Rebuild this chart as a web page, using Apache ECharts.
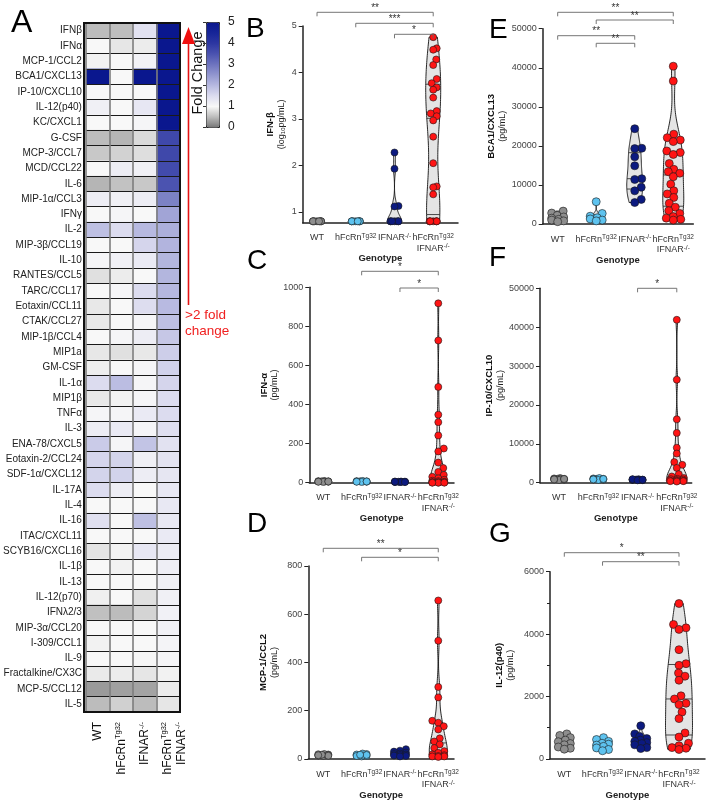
<!DOCTYPE html>
<html><head><meta charset="utf-8">
<script src="https://cdn.jsdelivr.net/npm/echarts@6/dist/echarts.min.js"></script>
<style>html,body{margin:0;padding:0;background:#fff}#c{width:706px;height:801px}</style>
</head><body><div id="c"></div>
<script>
// ---------------- DATA ----------------
const cytokines = ['IFNβ','IFNα','MCP-1/CCL2','BCA1/CXCL13','IP-10/CXCL10','IL-12(p40)','KC/CXCL1','G-CSF','MCP-3/CCL7','MCD/CCL22','IL-6','MIP-1α/CCL3','IFNγ','IL-2','MIP-3β/CCL19','IL-10','RANTES/CCL5','TARC/CCL17','Eotaxin/CCL11','CTAK/CCL27','MIP-1β/CCL4','MIP1a','GM-CSF','IL-1α','MIP1β','TNFα','IL-3','ENA-78/CXCL5','Eotaxin-2/CCL24','SDF-1α/CXCL12','IL-17A','IL-4','IL-16','ITAC/CXCL11','SCYB16/CXCL16','IL-1β','IL-13','IL-12(p70)','IFNλ2/3','MIP-3α/CCL20','I-309/CCL1','IL-9','Fractalkine/CX3C','MCP-5/CCL12','IL-5'];
const foldWT     = [0.5,1.0,0.95,5,1.0,1.15,1.0,0.5,0.6,1.0,0.45,1.2,1.0,1.9,1.0,1.05,0.8,1.0,0.87,0.87,1.0,0.86,0.92,1.5,0.87,1.05,1.2,1.75,1.6,1.62,1.5,1.0,1.42,1.0,0.83,1.0,1.0,0.93,0.53,1.0,0.95,1.0,0.88,0.25,0.5];
const foldHFcRn  = [0.52,0.85,1.0,1.0,1.0,1.0,1.0,0.45,0.68,1.2,0.55,1.15,1.05,1.5,1.0,1.15,0.9,1.05,1.0,1.0,1.05,0.8,1.0,1.95,0.95,1.05,1.25,1.05,1.62,1.63,1.2,1.0,1.0,1.0,0.95,0.95,1.0,1.0,0.5,1.0,1.0,1.0,0.9,0.3,0.67];
const foldIFNAR  = [1.4,0.9,1.1,5,1.0,1.3,1.05,0.75,0.78,1.15,0.6,1.2,1.0,2.0,1.6,1.25,1.0,1.5,1.48,1.05,1.2,0.87,1.05,1.05,1.05,1.25,1.05,1.85,1.15,1.2,1.0,1.0,1.9,1.0,1.3,1.0,1.0,0.8,0.7,1.0,1.0,0.98,0.85,0.32,0.5];
const foldDouble = [5,5,5,5,5,5,5,3.7,3.7,3.65,3.5,2.8,2.3,2.15,2.07,2.05,2.05,2.03,1.98,1.9,1.8,1.7,1.65,1.6,1.5,1.5,1.45,1.4,1.37,1.33,1.3,1.28,1.28,1.25,1.22,1.18,1.15,1.15,1.12,1.12,1.08,1.05,0.95,0.9,0.85];
const heatColLabels = ['{n|WT}','{n|hFcRn}{s|Tg32}','{n|IFNAR}{s|-/-}','\n{n|hFcRn}{s|Tg32}\n{n|IFNAR}{s|-/-}'];
const colorbarTicks = [0,1,2,3,4,5];

const genotypeLabels = ['{n|WT}','{n|hFcRn}{s|Tg32}','{n|IFNAR}{s|-/-}','{n|hFcRn}{s|Tg32}\n{n|IFNAR}{s|-/-}'];

// B: IFN-beta (log10 pg/mL)
const ifnbWT     = [0.8,0.8,0.8,0.8,0.8,0.8,0.8,0.8,0.8,0.8];
const ifnbHFcRn  = [0.8,0.8,0.8,0.8,0.8,0.8,0.8,0.8,0.8,0.8];
const ifnbIFNAR  = [2.28,1.93,1.13,1.12,0.8,0.8,0.8,0.8,0.8,0.8,0.8];
const ifnbDouble = [4.76,4.52,4.49,4.28,4.16,3.86,3.77,3.68,3.63,3.46,3.17,3.12,3.06,2.97,2.62,2.05,1.55,1.53,1.38,0.8,0.8,0.8,0.8,0.8,0.8,0.8];
const ifnbTicks  = [1,2,3,4,5];
const sigB = [[0,3,'**'],[1,3,'***'],[2,3,'*']];
// C: IFN-alpha
const ifnaWT     = [9,7,6,5,8,6,4,7,5,6];
const ifnaHFcRn  = [8,6,7,5,9,6,4,7,6,5];
const ifnaIFNAR  = [5,4,6,3,5,4,6,5,3,4,5];
const ifnaDouble = [918,728,490,348,310,242,175,160,103,75,55,40,30,22,15,10,8,5,3,2,2,1,1,0,0,0];
const sigC = [[1,3,'*'],[2,3,'*']];
// D: MCP-1/CCL2
const mcp1WT     = [18,15,12,20,16,14,19,13,17,15];
const mcp1HFcRn  = [20,15,12,18,22,10,14,16,12,17];
const mcp1IFNAR  = [40,34,30,26,22,20,18,16,14,12,10];
const mcp1Double = [657,490,298,255,158,150,135,122,85,72,60,45,32,25,18,15,12,10,10,8];
const sigD = [[0,3,'**'],[1,3,'*']];
// E: BCA1/CXCL13
const bca1WT     = [3300,2800,2200,1800,1500,1200,1000,800,600];
const bca1HFcRn  = [5700,2700,2000,1600,1300,1000,800];
const bca1IFNAR  = [24400,19400,19300,17200,14900,11600,11400,9400,8500,6300,5500];
const bca1Double = [40400,36600,23000,22100,21500,21100,18700,18300,17800,15500,14000,13400,13000,12100,10200,8500,7700,6800,5300,4300,3400,2700,1900,1500,1200,1000];
const sigE = [[0,3,'**'],[1,3,'**'],[0,2,'**'],[1,2,'**']];
// F: IP-10/CXCL10
const ip10WT     = [1200,1000,900,800,1100,700,900,1000,850,950];
const ip10HFcRn  = [1100,1000,900,800,1200,700,1000,900,950,850];
const ip10IFNAR  = [900,800,700,850,750,650,800,900,700,600,750];
const ip10Double = [41900,26500,16300,12800,9000,7500,5300,4600,3800,2200,1600,1200,1000,900,800,700,600,500,500,400,400,300];
const sigF = [[2,3,'*']];
// G: IL-12(p40)
const il12WT     = [800,750,680,600,550,490,450,380,340,310];
const il12HFcRn  = [680,620,560,500,470,440,400,350,300,260];
const il12IFNAR  = [1060,800,720,650,600,560,520,490,450,360,330];
const il12Double = [4980,4310,4200,4150,3500,3050,3000,2750,2650,2520,2020,1920,1780,1740,1500,1290,830,700,500,420,360,340,300];
const sigG = [[0,3,'*'],[1,3,'**']];

// ---------------- STYLE / LAYOUT ----------------
const FONT = '"Liberation Sans", Arial, Helvetica, sans-serif';
const groupColors = ['#8e8e8e','#5ec3ef','#0c1a80','#ff1414'];
const heatColors = ['#777777','#bcbcbc','#f8f8f8','#dcdcef','#b7b9e0','#9296cf','#6e74bf','#4b53b0','#2d37a2','#172598','#0a178e'];

const panels = [
  {name:'{b|IFN-β}\n{n|(log}{sub|10}{n|pg/mL)}', groups:[ifnbWT,ifnbHFcRn,ifnbIFNAR,ifnbDouble], sig:sigB, yMin:0.77, yMax:5, ticks:ifnbTicks,
   L:{left:302.7, top:26, right:458, bottom:222.7, xMin:-0.37, xMax:3.64, brk:[-13.7,-2.7,8.3], nameGap:16, genGap:27, sym:7, spread:[4,4,4,3.5], halfW:[5,5,7,7.5]}},
  {name:'{b|IFN-α}\n{n|(pg/mL)}', groups:[ifnaWT,ifnaHFcRn,ifnaIFNAR,ifnaDouble], sig:sigC, yMin:0, yMax:1000, interval:200,
   L:{left:309.3, top:287.3, right:454, bottom:482.7, xMin:-0.366, xMax:3.41, brk:[-16,0.7], nameGap:28, genGap:26, sym:7, spread:[5,5,5,6], halfW:[4,4,4,8]}},
  {name:'{b|MCP-1/CCL2}\n{n|(pg/mL)}', groups:[mcp1WT,mcp1HFcRn,mcp1IFNAR,mcp1Double], sig:sigD, yMin:0, yMax:800, interval:200,
   L:{left:308.3, top:566, right:454, bottom:764, xMin:-0.39, xMax:3.41, brk:[-17.7,-8.7], nameGap:28, genGap:26, sym:7, spread:[5,5,6,6], halfW:[4,4,6,9]}},
  {name:'{b|BCA1/CXCL13}\n{n|(pg/mL)}', groups:[bca1WT,bca1HFcRn,bca1IFNAR,bca1Double], sig:sigE, yMin:0, yMax:50000, interval:10000,
   L:{left:542.7, top:28.7, right:693.3, bottom:224, xMin:-0.389, xMax:3.52, brk:[-16.4,-8.7,7,14.6], nameGap:35, genGap:23, sym:8, spread:[6,6,7,9.5], halfW:[5,6,8,10.5]}},
  {name:'{b|IP-10/CXCL10}\n{n|(pg/mL)}', groups:[ip10WT,ip10HFcRn,ip10IFNAR,ip10Double], sig:sigF, yMin:0, yMax:50000, interval:10000,
   L:{left:540, top:288.3, right:691.7, bottom:482.7, xMin:-0.487, xMax:3.38, brk:[0], nameGap:32, genGap:26, sym:7, spread:[5,5,5,7], halfW:[4,4,4,10]}},
  {name:'{b|IL-12(p40)}\n{n|(pg/mL)}', groups:[il12WT,il12HFcRn,il12IFNAR,il12Double], sig:sigG, yMin:0, yMax:6000, interval:2000, minor:true,
   L:{left:550, top:571.7, right:705, bottom:765, xMin:-0.374, xMax:3.68, brk:[-19,-10], nameGap:34, genGap:25, sym:8, spread:[6,6,6,9.5], halfW:[6,6,7,13.5]}}
];

// ---------------- HELPERS ----------------
function quantile(sorted, p){
  const pos = (sorted.length-1)*p, lo = Math.floor(pos), hi = Math.ceil(pos);
  return sorted[lo] + (sorted[hi]-sorted[lo])*(pos-lo);
}
function violin(vals, halfMax){
  const s = vals.slice().sort((a,b)=>a-b), n = s.length;
  const mn = s[0], mx = s[n-1];
  if (!(mx > mn)) return null;
  const mean = s.reduce((a,b)=>a+b,0)/n;
  const sd = Math.sqrt(s.reduce((a,b)=>a+(b-mean)*(b-mean),0)/(n-1));
  const q1 = quantile(s,0.25), med = quantile(s,0.5), q3 = quantile(s,0.75);
  let spread = Math.min(sd, (q3-q1)/1.34); if (!(spread>0)) spread = sd;
  let h = 0.9*spread*Math.pow(n,-0.2); if (!(h>0)) h = (mx-mn)/10;
  const K = 80, ys = [], ds = [];
  for (let k=0;k<=K;k++){
    const y = mn + (mx-mn)*k/K; let d = 0;
    for (const v of s){ const z=(y-v)/h; d += Math.exp(-0.5*z*z); }
    ys.push(y); ds.push(d);
  }
  const dmax = Math.max(...ds);
  const w = ds.map(d=>d/dmax*halfMax);
  const widthAt = (q)=>{ const t=(q-mn)/(mx-mn)*K; const k=Math.min(K-1,Math.floor(t)); return w[k]+(w[k+1]-w[k])*(t-k); };
  return {ys, w, q1, med, q3, widthAt};
}
function swarm(cx, ys, r, maxSpread){
  const order = ys.map((y,i)=>i).sort((a,b)=>ys[b]-ys[a]);
  const placed = [], xs = new Array(ys.length), d = 2*r*0.9;
  for (const i of order){
    const y = ys[i]; let best = cx, bestCost = Infinity;
    for (let off=-maxSpread; off<=maxSpread+1e-6; off+=0.5){
      const x = cx+off; let ov = 0;
      for (const p of placed){ const dist=Math.hypot(p[0]-x,p[1]-y); if (dist<d) ov += d-dist; }
      const cost = ov*5 + Math.abs(off) + (off<0?0.01:0);
      if (cost < bestCost){ bestCost = cost; best = x; }
    }
    xs[i] = best; placed.push([best,y]);
  }
  return xs;
}

// ---------------- OPTION ----------------
const heatData = [];
const cols = [foldWT, foldHFcRn, foldIFNAR, foldDouble];
cytokines.forEach((c,r)=>cols.forEach((arr,ci)=>heatData.push([ci, r, arr[r]])));

const grids = [
  {left:84, top:23, width:96, height:689},
  {left:206, top:22, width:13, height:105}
];
const xAxes = [
  {gridIndex:0, type:'category', data:heatColLabels, z:4, axisLine:{show:false}, axisTick:{show:false},
   splitLine:{show:true, interval:0, lineStyle:{color:'#7d7d7d', width:1.6}},
   axisLabel:{rotate:90, margin:10, interval:0, rich:{n:{fontSize:12, color:'#111', fontFamily:FONT, lineHeight:14}, s:{fontSize:7.5, color:'#111', verticalAlign:'top', lineHeight:14, fontFamily:FONT}}}},
  {gridIndex:1, type:'value', show:false, min:0, max:1}
];
const yAxes = [
  {gridIndex:0, type:'category', data:cytokines, inverse:true, z:3, axisLine:{show:false}, axisTick:{show:false},
   splitLine:{show:true, interval:0, lineStyle:{color:'#1a1a1a', width:1}},
   axisLabel:{fontSize:10, color:'#222', margin:4, interval:0}},
  {gridIndex:1, type:'value', position:'right', min:0, max:5, interval:1, z:10,
   axisLine:{show:false}, axisTick:{show:true, inside:true, length:3, lineStyle:{color:'#333'}},
   axisLabel:{fontSize:12, color:'#222', margin:9}, splitLine:{show:false}}
];
const series = [
  {type:'heatmap', xAxisIndex:0, yAxisIndex:0, data:heatData, itemStyle:{borderWidth:0}, emphasis:{disabled:true}, silent:true}
];
const axisColor = '#222';
panels.forEach((P, pi)=>{
  const L = P.L, gi = grids.length;
  grids.push({left:L.left, top:L.top, width:L.right-L.left, height:L.bottom-L.top});
  xAxes.push({gridIndex:gi, type:'value', min:L.xMin, max:L.xMax,
    axisLine:{onZero:false, lineStyle:{color:axisColor, width:1.5}}, axisTick:{show:false}, splitLine:{show:false},
    axisLabel:{customValues:[0,1,2,3], formatter:(v)=>genotypeLabels[Math.round(v)], margin:10,
      rich:{n:{fontSize:9, color:'#333', fontFamily:FONT, lineHeight:10.5}, s:{fontSize:6.5, color:'#333', verticalAlign:'top', lineHeight:10.5, fontFamily:FONT}}},
    name:'Genotype', nameLocation:'middle', nameGap:L.genGap, nameTextStyle:{fontWeight:'bold', fontSize:9.5, color:'#222', fontFamily:FONT}});
  const ya = {gridIndex:gi, type:'value', min:P.yMin, max:P.yMax,
    axisLine:{show:true, onZero:false, lineStyle:{color:axisColor, width:1.5}},
    axisTick:{show:true, length:4, lineStyle:{color:axisColor, width:1}}, splitLine:{show:false},
    axisLabel:{fontSize:9, color:'#444', margin:6, formatter:(v)=>String(v)},
    name:P.name, nameLocation:'middle', nameRotate:90, nameGap:L.nameGap,
    nameTextStyle:{rich:{b:{fontWeight:'bold', fontSize:9.5, color:'#111', lineHeight:11, fontFamily:FONT},
                         n:{fontSize:9, color:'#222', lineHeight:11, fontFamily:FONT},
                         sub:{fontSize:6, color:'#222', verticalAlign:'bottom', lineHeight:11, fontFamily:FONT}}}};
  if (P.ticks){ ya.axisLabel.customValues = P.ticks; ya.axisTick.customValues = P.ticks; }
  else { ya.interval = P.interval; }
  if (P.minor){ ya.minorTick = {show:true, splitNumber:2, length:3, lineStyle:{color:axisColor}}; }
  yAxes.push(ya);
  const ai = xAxes.length-1;
  series.push({type:'custom', xAxisIndex:ai, yAxisIndex:ai, clip:false, silent:true,
    data:P.groups.map((g,i)=>[i, P.yMin]),
    renderItem:(params, api)=>{
      const g = params.dataIndex, vals = P.groups[g];
      const cx = api.coord([g, P.yMin])[0];
      const py = v => api.coord([g, v])[1];
      const children = [];
      const v = violin(vals, L.halfW[g]);
      if (v){
        const left = v.ys.map((y,k)=>[cx-v.w[k], py(y)]);
        const right = v.ys.map((y,k)=>[cx+v.w[k], py(y)]).reverse();
        children.push({type:'polygon', shape:{points:left.concat(right)}, style:{fill:'#e4e4e4', stroke:'#111', lineWidth:0.9}});
        [v.q1, v.med, v.q3].forEach(q=>{ const w=v.widthAt(q); children.push({type:'line', shape:{x1:cx-w, y1:py(q), x2:cx+w, y2:py(q)}, style:{stroke:'#222', lineWidth:0.8}}); });
      }
      const ys = vals.map(py);
      const xs = swarm(cx, ys, L.sym/2, L.spread[g]);
      vals.forEach((_,k)=>children.push({type:'circle', shape:{cx:xs[k], cy:ys[k], r:L.sym/2}, style:{fill:groupColors[g], stroke:'#1a1a1a', lineWidth:0.6}}));
      return {type:'group', children};
    }});
  series.push({type:'custom', xAxisIndex:ai, yAxisIndex:ai, clip:false, silent:true,
    data:P.sig.map(s=>[s[0], P.yMax]),
    renderItem:(params, api)=>{
      const s = P.sig[params.dataIndex];
      const x1 = api.coord([s[0], P.yMax])[0], x2 = api.coord([s[1], P.yMax])[0];
      const y = api.coord([s[0], P.yMax])[1] + L.brk[params.dataIndex];
      return {type:'group', children:[
        {type:'polyline', shape:{points:[[x1,y+4],[x1,y],[x2,y],[x2,y+4]]}, style:{stroke:'#666', lineWidth:0.9, fill:null}},
        {type:'text', style:{text:s[2], x:(x1+x2)/2, y:y+1, textAlign:'center', textVerticalAlign:'bottom', fontSize:10, fill:'#333', fontFamily:FONT}}
      ]};
    }});
});

const letters = [['A',11,7,32],['B',246,15,28],['C',247,247,28],['D',247,510,28],['E',489,16,28],['F',489,244,28],['G',489,520,28]];
const graphic = letters.map(l=>({type:'text', left:l[1], top:l[2], style:{text:l[0], fontSize:l[3], fill:'#000', fontFamily:FONT}}));
graphic.push({type:'rect', shape:{x:84, y:23, width:96, height:689}, style:{fill:null, stroke:'#111', lineWidth:2}, z:100, silent:true});
graphic.push({type:'text', x:198, y:73, rotation:Math.PI/2, style:{text:'Fold Change', fontSize:14.5, textAlign:'center', textVerticalAlign:'middle', fill:'#111', fontFamily:FONT}});
graphic.push({type:'line', shape:{x1:188.5, y1:305, x2:188.5, y2:40}, style:{stroke:'#e31212', lineWidth:1.6}});
graphic.push({type:'polygon', shape:{points:[[188.5,27],[182,44],[195,44]]}, style:{fill:'#f01010'}});
graphic.push({type:'text', x:185, y:307, style:{text:'>2 fold\nchange', fontSize:13.5, lineHeight:16, fill:'#f02020', fontFamily:FONT}});

const option = {
  animation:false,
  textStyle:{fontFamily:FONT},
  grid:grids, xAxis:xAxes, yAxis:yAxes, series:series, graphic:graphic,
  visualMap:{type:'continuous', min:0, max:5, seriesIndex:0, dimension:2, calculable:false, hoverLink:false,
    orient:'vertical', left:206, top:22, itemWidth:13, itemHeight:105, padding:0, text:null, showLabel:false,
    borderColor:'#222', borderWidth:1, inRange:{color:heatColors}}
};
const chart = echarts.init(document.getElementById('c'), null, {renderer:'canvas'});
chart.setOption(option);
</script></body></html>
